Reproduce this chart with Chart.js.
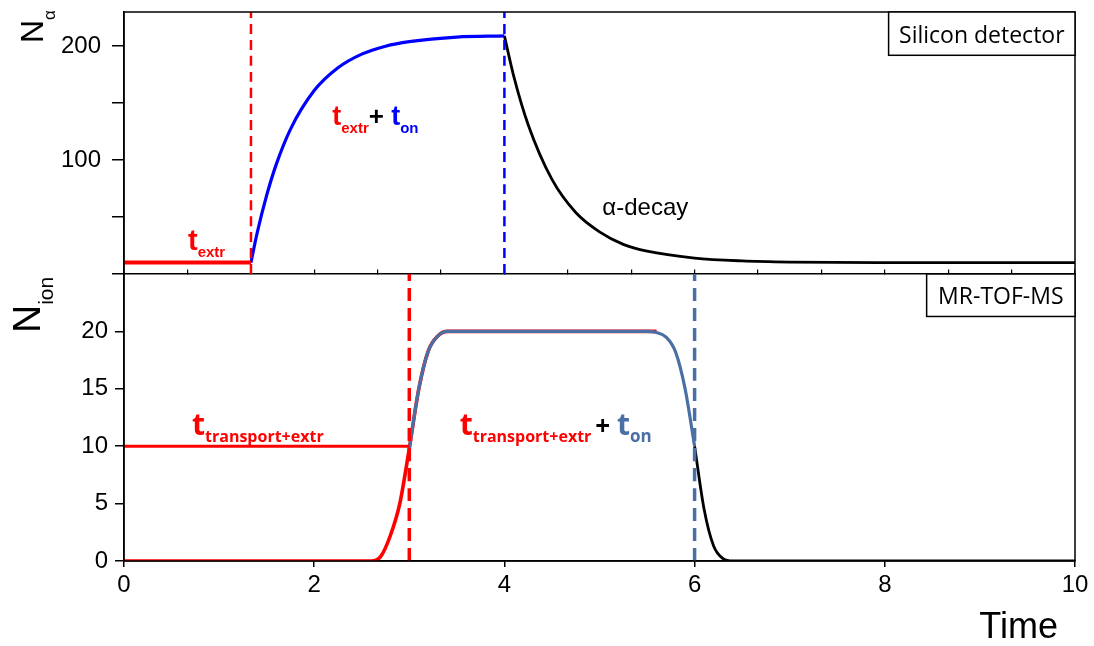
<!DOCTYPE html>
<html>
<head>
<meta charset="utf-8">
<script src="https://cdn.jsdelivr.net/npm/chart.js@4.4.1/dist/chart.umd.min.js"></script>
<style>
  html, body { margin: 0; padding: 0; background: #fff; }
</style>
</head>
<body>
<canvas id="chart" width="1094" height="646"></canvas>
<script>
// upper panel - silicon detector counts
const extrTime = [0, 1.335];
const extrCounts = [10, 10];
const onTime = [1.335, 1.4, 1.5, 1.6, 1.75, 2.0, 2.25, 2.5, 2.75, 3.0, 3.5, 4.0];
const onCounts = [10, 36, 69, 96, 127, 161, 181, 193, 200, 204, 208, 209];
const decayTime = [4.0, 4.1, 4.25, 4.5, 4.75, 5.0, 5.25, 5.5, 6.0, 6.5, 7.0, 8.0, 10.0];
const decayCounts = [209, 173, 131, 83, 54, 37, 26, 20, 14, 11.5, 10.5, 10, 10];

// lower panel - MR-TOF-MS ions
const transportTime = [0, 3.0];
const transportIons = [10, 10];
const riseTimeIon = [0, 2.6, 2.7, 2.8, 2.9, 3.0, 3.1, 3.2, 3.3, 3.4, 3.5, 5.6];
const riseIons = [0, 0, 0.4, 2.2, 5.0, 9.8, 15, 18.3, 19.6, 20, 20, 20];
const onTimeIon = [3.0, 3.1, 3.2, 3.3, 3.4, 3.5, 5.5, 5.6, 5.7, 5.8, 5.9, 6.0];
const onIons = [9.8, 15, 18.3, 19.6, 20, 20, 20, 19.9, 19.5, 18.2, 15, 10];
const offTimeIon = [6.0, 6.1, 6.2, 6.3, 6.4, 10];
const offIons = [10, 4.5, 1.3, 0.2, 0, 0];

// dashed markers (time of each marker)
const markTopExtr = 1.335;
const markTopOn = 4.0;
const markBotExtr = 3.0;
const markBotOn = 6.0;

const topRange = [0, 230];
const botRange = [0, 25];
const topTicks = [100, 200];
const botTicks = [0, 5, 10, 15, 20];
const timeTicks = [0, 2, 4, 6, 8, 10];

const RED = '#ff0000';
const BLUE = '#0000ff';
const STEEL = '#4a6fa5';
const ARIAL = '"Liberation Sans", Arial, sans-serif';
const CAL = '"Open Sans", "Noto Sans", sans-serif';

const pts = (xs, ys) => xs.map((x, i) => ({ x: x, y: ys[i] }));

function line(data, axis, color, width, extra) {
    return Object.assign({
        data: data,
        yAxisID: axis,
        borderColor: color,
        borderWidth: width,
        pointRadius: 0,
        fill: false,
        cubicInterpolationMode: 'monotone'
    }, extra || {});
}

const dash = { borderDash: [10, 6], order: 0 };
const dashBig = { borderDash: [13, 7], order: 0 };

function runs(ctx, x, y, parts) {
    for (const p of parts) {
        ctx.font = p.font;
        ctx.fillStyle = p.color;
        ctx.fillText(p.text, x, y + (p.dy || 0));
        x += ctx.measureText(p.text).width + (p.gap || 0);
    }
}

function box(ctx, x1, y1, x2, y2, text, font, baseline) {
    ctx.fillStyle = '#fff';
    ctx.fillRect(x1, y1, x2 - x1, y2 - y1);
    ctx.strokeStyle = '#000';
    ctx.lineWidth = 1.5;
    ctx.strokeRect(x1, y1, x2 - x1, y2 - y1);
    ctx.font = font;
    ctx.fillStyle = '#000';
    ctx.textAlign = 'center';
    ctx.fillText(text, (x1 + x2) / 2, baseline);
    ctx.textAlign = 'left';
}

const decorations = {
    id: 'decorations',
    afterDatasetsDraw(chart) {
        const ctx = chart.ctx;
        const a = chart.chartArea;
        const x = chart.scales.x, yt = chart.scales.yTop, yb = chart.scales.yBot;
        ctx.save();
        ctx.strokeStyle = '#000';
        ctx.lineWidth = 1.5;
        ctx.strokeRect(a.left, a.top, a.right - a.left, a.bottom - a.top);
        ctx.textBaseline = 'alphabetic';

        // upper panel labels
        runs(ctx, x.getPixelForValue(0.673), yt.getPixelForValue(21), [
            { text: 't', font: 'bold 29px ' + ARIAL, color: RED },
            { text: 'extr', font: 'bold 15px ' + ARIAL, color: RED, dy: 7 }
        ]);
        runs(ctx, x.getPixelForValue(2.19), yt.getPixelForValue(131), [
            { text: 't', font: 'bold 27px ' + ARIAL, color: RED },
            { text: 'extr', font: 'bold 15px ' + ARIAL, color: RED, dy: 8 },
            { text: '+ ', font: 'bold 26px ' + ARIAL, color: '#000' },
            { text: 't', font: 'bold 27px ' + ARIAL, color: BLUE },
            { text: 'on', font: 'bold 15px ' + ARIAL, color: BLUE, dy: 8 }
        ]);
        ctx.font = '24px ' + ARIAL;
        ctx.fillStyle = '#000';
        ctx.fillText('\u03b1-decay', x.getPixelForValue(5.03), yt.getPixelForValue(51.8));

        // lower panel labels
        runs(ctx, x.getPixelForValue(0.715), yb.getPixelForValue(11), [
            { text: 't', font: 'bold 30px ' + CAL, color: RED },
            { text: 'transport+extr', font: 'bold 16px ' + CAL, color: RED, dy: 7 }
        ]);
        runs(ctx, x.getPixelForValue(3.53), yb.getPixelForValue(11), [
            { text: 't', font: 'bold 30px ' + CAL, color: RED },
            { text: 'transport+extr', font: 'bold 16px ' + CAL, color: RED, dy: 7, gap: 4 },
            { text: '+ ', font: 'bold 26px ' + CAL, color: '#000' },
            { text: 't', font: 'bold 30px ' + CAL, color: STEEL },
            { text: 'on', font: 'bold 17px ' + CAL, color: STEEL, dy: 7 }
        ]);

        // panel tags
        box(ctx, x.getPixelForValue(8.04), a.top, a.right, yt.getPixelForValue(192),
            'Silicon detector', '23px ' + CAL, a.top + 31);
        box(ctx, x.getPixelForValue(8.44), yb.getPixelForValue(25), a.right, yb.getPixelForValue(21.3),
            'MR-TOF-MS', '23px ' + CAL, yb.getPixelForValue(25) + 30);

        // axis titles
        ctx.save();
        ctx.translate(43, 43);
        ctx.rotate(-Math.PI / 2);
        runs(ctx, 0, 0, [
            { text: 'N', font: '32px ' + ARIAL, color: '#000' },
            { text: '\u03b1', font: '17px ' + ARIAL, color: '#000', dy: 12 }
        ]);
        ctx.restore();
        ctx.save();
        ctx.translate(40, 333);
        ctx.rotate(-Math.PI / 2);
        runs(ctx, 0, 0, [
            { text: 'N', font: '39px ' + ARIAL, color: '#000' },
            { text: 'ion', font: '21px ' + ARIAL, color: '#000', dy: 13 }
        ]);
        ctx.restore();

        ctx.font = '36px ' + ARIAL;
        ctx.fillStyle = '#000';
        ctx.textAlign = 'right';
        ctx.fillText('Time', 1058, 638);
        ctx.restore();
    }
};

const noPad = s => { s.paddingTop = 0; s.paddingBottom = 0; };

new Chart(document.getElementById('chart'), {
    type: 'line',
    data: {
        datasets: [
            line(pts([markTopExtr, markTopExtr], topRange), 'yTop', RED, 2.5, dash),
            line(pts([markTopOn, markTopOn], topRange), 'yTop', BLUE, 2.5, dash),
            line(pts([markBotExtr, markBotExtr], botRange), 'yBot', RED, 3.5, dashBig),
            line(pts([markBotOn, markBotOn], botRange), 'yBot', STEEL, 3.5, dashBig),
            line(pts(extrTime, extrCounts), 'yTop', RED, 4, { order: 1 }),
            line(pts(onTime, onCounts), 'yTop', BLUE, 3.2, { order: 1 }),
            line(pts(decayTime, decayCounts), 'yTop', '#000', 2.8, { order: 1 }),
            line(pts(transportTime, transportIons), 'yBot', RED, 3, { order: 1 }),
            line(pts(onTimeIon, onIons), 'yBot', STEEL, 3.2, { order: 1 }),
            line(pts(offTimeIon, offIons), 'yBot', '#000', 2.8, { order: 1 }),
            line(pts(riseTimeIon, riseIons), 'yBot', RED, 3.6, { order: 2 })
        ]
    },
    options: {
        responsive: false,
        animation: false,
        layout: { padding: { top: 12, right: 19, bottom: 0, left: 0 } },
        plugins: { legend: { display: false }, tooltip: { enabled: false } },
        scales: {
            x: {
                type: 'linear',
                min: 0,
                max: 10,
                afterBuildTicks: s => { s.ticks = timeTicks.map(v => ({ value: v })); },
                ticks: { color: '#000', font: { size: 24, family: ARIAL }, padding: 4, maxRotation: 0 },
                grid: { drawOnChartArea: false, tickLength: 6, color: '#000', lineWidth: 1.5 },
                border: { color: '#000', width: 1.5 },
                afterFit: s => { s.height = 85; s.paddingLeft = 0; s.paddingRight = 0; }
            },
            xSep: {
                type: 'linear',
                min: 0,
                max: 15,
                position: { yTop: 0 },
                ticks: { display: false, stepSize: 1 },
                grid: { drawOnChartArea: false, tickLength: -5, color: '#000', lineWidth: 1.2 },
                border: { color: '#000', width: 1.5 }
            },
            yBot: {
                type: 'linear',
                position: 'left',
                stack: 'panels',
                stackWeight: 287,
                min: botRange[0],
                max: botRange[1],
                afterBuildTicks: s => { s.ticks = botTicks.map(v => ({ value: v })); },
                ticks: { color: '#000', font: { size: 24, family: ARIAL }, padding: 7 },
                grid: { drawOnChartArea: false, tickLength: 9, color: '#000', lineWidth: 1.5 },
                border: { color: '#000', width: 1.5 },
                afterFit: s => { s.width = 124; noPad(s); }
            },
            yTop: {
                type: 'linear',
                position: 'left',
                stack: 'panels',
                stackWeight: 262,
                min: topRange[0],
                max: topRange[1],
                afterBuildTicks: s => { s.ticks = [0, 50, 100, 150, 200].map(v => ({ value: v })); },
                ticks: {
                    color: '#000',
                    font: { size: 24, family: ARIAL },
                    padding: 11,
                    callback: v => topTicks.includes(v) ? String(v) : ''
                },
                grid: { drawOnChartArea: false, tickLength: 12, color: '#000', lineWidth: 1.5 },
                border: { color: '#000', width: 1.5 },
                afterFit: s => { s.width = 124; noPad(s); }
            }
        }
    },
    plugins: [decorations]
});
</script>
</body>
</html>
